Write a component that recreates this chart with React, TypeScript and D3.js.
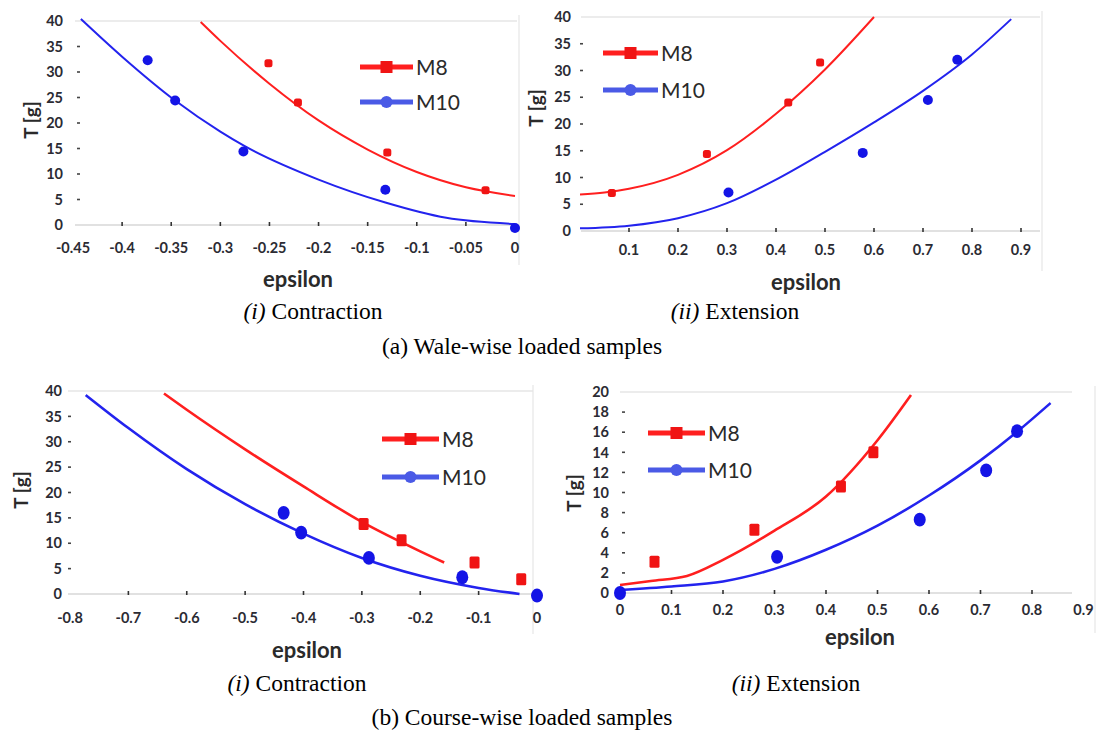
import React from "react";
import * as d3 from "d3";

// ---------- (a)(i) Wale-wise, contraction ----------
const aConM8Eps = [-0.251, -0.221, -0.13, -0.03];
const aConM8T = [31.7, 24.0, 14.2, 6.8];
const aConM10Eps = [-0.374, -0.346, -0.2765, -0.132, 0];
const aConM10T = [32.3, 24.4, 14.4, 6.9, -0.6];
const aConM8FitEps = [-0.32, -0.3, -0.25, -0.2, -0.15, -0.1, -0.05, 0];
const aConM8FitT = [39.8, 36.1, 27.7, 20.5, 14.8, 10.4, 7.4, 5.7];
const aConM10FitEps = [-0.442, -0.4, -0.346, -0.3, -0.2765, -0.2, -0.132, -0.07, 0];
const aConM10FitT = [40.4, 33.0, 24.4, 18.3, 15.6, 8.9, 4.4, 1.4, 0.2];

// ---------- (a)(ii) Wale-wise, extension ----------
const aExtM8Eps = [0.065, 0.259, 0.425, 0.49];
const aExtM8T = [7.1, 14.4, 24.0, 31.5];
const aExtM10Eps = [0.303, 0.577, 0.71, 0.77];
const aExtM10T = [7.2, 14.6, 24.5, 32.0];
const aExtM8FitEps = [0, 0.05, 0.1, 0.2, 0.3, 0.4, 0.5, 0.6];
const aExtM8FitT = [6.8, 7.2, 7.9, 10.5, 15.1, 21.9, 30.2, 40.0];
const aExtM10FitEps = [0, 0.1, 0.2, 0.3, 0.4, 0.5, 0.6, 0.7, 0.8, 0.88];
const aExtM10FitT = [0.5, 1.0, 2.4, 5.2, 9.6, 14.8, 20.3, 26.2, 33.0, 39.6];

// ---------- (b)(i) Course-wise, contraction ----------
const bConM8Eps = [-0.297, -0.232, -0.107, -0.027];
const bConM8T = [13.8, 10.6, 6.2, 2.9];
const bConM10Eps = [-0.434, -0.404, -0.288, -0.128, 0];
const bConM10T = [16.0, 12.1, 7.1, 3.3, -0.3];
const bConM8FitEps = [-0.639, -0.6, -0.5, -0.4, -0.3, -0.2, -0.159];
const bConM8FitT = [39.5, 36.3, 28.5, 21.2, 14.2, 8.4, 6.2];
const bConM10FitEps = [-0.773, -0.7, -0.6, -0.5, -0.4, -0.3, -0.2, -0.1, -0.03];
const bConM10FitT = [39.2, 32.7, 24.6, 17.7, 11.9, 7.1, 3.6, 1.2, 0];

// ---------- (b)(ii) Course-wise, extension ----------
const bExtM8Eps = [0.067, 0.261, 0.429, 0.492];
const bExtM8T = [3.1, 6.3, 10.6, 14.0];
const bExtM10Eps = [0, 0.305, 0.582, 0.711, 0.771];
const bExtM10T = [0, 3.6, 7.3, 12.2, 16.1];
const bExtM8FitEps = [0, 0.06, 0.13, 0.2, 0.3, 0.4, 0.5, 0.565];
const bExtM8FitT = [0.8, 1.2, 1.7, 3.3, 6.2, 9.6, 15.2, 19.7];
const bExtM10FitEps = [0, 0.1, 0.2, 0.3, 0.4, 0.5, 0.6, 0.7, 0.77, 0.836];
const bExtM10FitT = [0.3, 0.65, 1.15, 2.4, 4.3, 6.7, 9.7, 13.2, 16.0, 18.9];

// ---------- ticks & labels ----------
const aConXTicks = [-0.45, -0.4, -0.35, -0.3, -0.25, -0.2, -0.15, -0.1, -0.05, 0];
const aExtXTicks = [0.1, 0.2, 0.3, 0.4, 0.5, 0.6, 0.7, 0.8, 0.9];
const bConXTicks = [-0.8, -0.7, -0.6, -0.5, -0.4, -0.3, -0.2, -0.1, 0];
const bExtXTicks = [0, 0.1, 0.2, 0.3, 0.4, 0.5, 0.6, 0.7, 0.8, 0.9];
const tTicks40 = [0, 5, 10, 15, 20, 25, 30, 35, 40];
const tTicks20 = [0, 2, 4, 6, 8, 10, 12, 14, 16, 18, 20];
const seriesNames = ["M8", "M10"];

const RED = "#ff1f1f";
const BLUE = "#2323ee";
const TICK_FONT = "Lato, 'Open Sans', sans-serif";
const SERIF = "'Liberation Serif', 'Times New Roman', serif";

type Pt = [number, number];
const zip = (xs: number[], ys: number[]): Pt[] => xs.map((x, i) => [x, ys[i]]);

type PanelProps = {
  xDomain: [number, number];
  xRange: [number, number];
  yDomain: [number, number];
  yRange: [number, number];
  xTicks: number[];
  yTicks: number[];
  plotLeft: number;
  plotRight: number;
  border: number;
  yLabelRight: number;
  yDashX: number;
  xLabelY: number;
  tPos: [number, number];
  epsPos: [number, number];
  legend: { x1: number; x2: number; y8: number; y10: number };
  lw: number;
  big: boolean;
  m8: Pt[];
  m10: Pt[];
  m8Fit: Pt[];
  m10Fit: Pt[];
};

function Panel(p: PanelProps) {
  const x = d3.scaleLinear().domain(p.xDomain).range(p.xRange);
  const y = d3.scaleLinear().domain(p.yDomain).range(p.yRange);
  const line = d3
    .line<Pt>()
    .x((d) => x(d[0]))
    .y((d) => y(d[1]))
    .curve(d3.curveMonotoneX);
  const y0 = y(0);
  const yTop = y(p.yDomain[1]);
  const sq = p.big ? 10 : 8;
  const cr = p.big ? 6 : 5;
  const lg = p.legend;
  const lmid = (lg.x1 + lg.x2) / 2;
  return (
    <g>
      {/* frame */}
      <line x1={p.plotLeft} x2={p.plotRight} y1={yTop} y2={yTop} stroke="#d9d9d9" strokeWidth={1.2} />
      <line x1={p.border} x2={p.border} y1={yTop - 6} y2={y0 + 40} stroke="#e6e6e6" strokeWidth={1.2} />
      <line x1={p.plotLeft} x2={p.plotRight} y1={y0} y2={y0} stroke="#c4c4c4" strokeWidth={1.2} />
      {/* x ticks */}
      {p.xTicks.map((t) => {
        const xp = x(t);
        const inner = xp > p.plotLeft + 4 && xp < p.plotRight - 4;
        return (
          <g key={"xt" + t}>
            {inner && <line x1={xp} x2={xp} y1={y0 - 3} y2={y0 + 1} stroke="#333" strokeWidth={1.6} />}
            <text x={xp} y={p.xLabelY} textAnchor="middle" fontFamily={TICK_FONT} fontWeight={700} fontSize={14.5} fill="#2b2b33">
              {String(t)}
            </text>
          </g>
        );
      })}
      {/* y ticks */}
      {p.yTicks.map((t, i) => (
        <g key={"yt" + t}>
          <text x={p.yLabelRight} y={y(t)} dy="0.36em" textAnchor="end" fontFamily={TICK_FONT} fontWeight={700} fontSize={14.5} fill="#2b2b33">
            {String(t)}
          </text>
          {i > 0 && i < p.yTicks.length - 1 && (
            <line x1={p.yDashX} x2={p.yDashX + 3} y1={y(t)} y2={y(t)} stroke="#444" strokeWidth={1.6} />
          )}
        </g>
      ))}
      {/* axis titles */}
      <text
        transform={`translate(${p.tPos[0]},${p.tPos[1]}) rotate(-90)`}
        textAnchor="middle"
        dy="0.35em"
        fontFamily={TICK_FONT}
        fontWeight={700}
        fontSize={19}
        fill="#2a2a2a"
      >
        T [g]
      </text>
      <text x={p.epsPos[0]} y={p.epsPos[1]} dy="0.35em" textAnchor="middle" fontFamily={TICK_FONT} fontWeight={700} fontSize={22} fill="#2a2a2a">
        epsilon
      </text>
      {/* fitted curves */}
      <path d={line(p.m8Fit) || ""} fill="none" stroke={RED} strokeWidth={p.lw} />
      <path d={line(p.m10Fit) || ""} fill="none" stroke={BLUE} strokeWidth={p.lw} />
      {/* points */}
      {p.m8.map((d, i) => (
        <rect
          key={"r" + i}
          x={x(d[0]) - sq / 2}
          y={y(d[1]) - (p.big ? sq * 0.6 : sq / 2)}
          width={sq}
          height={p.big ? sq * 1.2 : sq}
          rx={p.big ? 1.5 : 2.5}
          fill="#f01414"
        />
      ))}
      {p.m10.map((d, i) => (
        <ellipse key={"c" + i} cx={x(d[0])} cy={y(d[1])} rx={cr} ry={p.big ? cr * 1.15 : cr} fill="#1414e6" />
      ))}
      {/* legend */}
      <line x1={lg.x1} x2={lg.x2} y1={lg.y8} y2={lg.y8} stroke={RED} strokeWidth={5} />
      <rect x={lmid - 6} y={lg.y8 - 6} width={12} height={12} fill="#f01414" />
      <text x={lg.x2 + 3} y={lg.y8} dy="0.36em" fontFamily={TICK_FONT} fontSize={21} fill="#2a2a2a">
        {seriesNames[0]}
      </text>
      <line x1={lg.x1} x2={lg.x2} y1={lg.y10} y2={lg.y10} stroke="#4a5ae6" strokeWidth={5} />
      <circle cx={lmid} cy={lg.y10} r={6} fill="#4a5ae6" />
      <text x={lg.x2 + 3} y={lg.y10} dy="0.36em" fontFamily={TICK_FONT} fontSize={21} fill="#2a2a2a">
        {seriesNames[1]}
      </text>
    </g>
  );
}

function Caption({ x, y, roman, word }: { x: number; y: number; roman: string; word: string }) {
  return (
    <text x={x} y={y} textAnchor="middle" fontFamily={SERIF} fontSize={23.5} fill="#000">
      <tspan fontStyle="italic">{roman}</tspan>
      <tspan>{" " + word}</tspan>
    </text>
  );
}

export default function App() {
  return (
    <div style={{ position: "absolute", left: 0, top: 0, width: 1099, height: 733, background: "#fff" }}>
      <svg width={1099} height={733} style={{ display: "block" }}>
        <rect width={1099} height={733} fill="#fff" />
        <Panel
          xDomain={[-0.45, 0]}
          xRange={[73, 515]}
          yDomain={[0, 40]}
          yRange={[225, 21]}
          xTicks={aConXTicks}
          yTicks={tTicks40}
          plotLeft={75}
          plotRight={517}
          border={519}
          yLabelRight={63}
          yDashX={77}
          xLabelY={253}
          tPos={[31, 120]}
          epsPos={[298, 279]}
          legend={{ x1: 360, x2: 413, y8: 67, y10: 102 }}
          lw={2}
          big={false}
          m8={zip(aConM8Eps, aConM8T)}
          m10={zip(aConM10Eps, aConM10T)}
          m8Fit={zip(aConM8FitEps, aConM8FitT)}
          m10Fit={zip(aConM10FitEps, aConM10FitT)}
        />
        <Panel
          xDomain={[0, 0.9]}
          xRange={[580, 1021]}
          yDomain={[0, 40]}
          yRange={[231, 17]}
          xTicks={aExtXTicks}
          yTicks={tTicks40}
          plotLeft={581}
          plotRight={1040}
          border={1042}
          yLabelRight={571}
          yDashX={580}
          xLabelY={255}
          tPos={[536, 108]}
          epsPos={[806, 282]}
          legend={{ x1: 603, x2: 658, y8: 53, y10: 90 }}
          lw={2}
          big={false}
          m8={zip(aExtM8Eps, aExtM8T)}
          m10={zip(aExtM10Eps, aExtM10T)}
          m8Fit={zip(aExtM8FitEps, aExtM8FitT)}
          m10Fit={zip(aExtM10FitEps, aExtM10FitT)}
        />
        <Panel
          xDomain={[-0.8, 0]}
          xRange={[70, 537]}
          yDomain={[0, 40]}
          yRange={[594, 391]}
          xTicks={bConXTicks}
          yTicks={tTicks40}
          plotLeft={68}
          plotRight={533}
          border={533}
          yLabelRight={62}
          yDashX={68}
          xLabelY={623}
          tPos={[21, 490]}
          epsPos={[307, 650]}
          legend={{ x1: 382, x2: 439, y8: 439, y10: 477 }}
          lw={2.6}
          big={true}
          m8={zip(bConM8Eps, bConM8T)}
          m10={zip(bConM10Eps, bConM10T)}
          m8Fit={zip(bConM8FitEps, bConM8FitT)}
          m10Fit={zip(bConM10FitEps, bConM10FitT)}
        />
        <Panel
          xDomain={[0, 0.9]}
          xRange={[620, 1083.5]}
          yDomain={[0, 20]}
          yRange={[593, 392]}
          xTicks={bExtXTicks}
          yTicks={tTicks20}
          plotLeft={620}
          plotRight={1072}
          border={1095}
          yLabelRight={609}
          yDashX={622}
          xLabelY={615}
          tPos={[574, 493]}
          epsPos={[860, 637]}
          legend={{ x1: 648, x2: 705, y8: 433, y10: 470 }}
          lw={2.6}
          big={true}
          m8={zip(bExtM8Eps, bExtM8T)}
          m10={zip(bExtM10Eps, bExtM10T)}
          m8Fit={zip(bExtM8FitEps, bExtM8FitT)}
          m10Fit={zip(bExtM10FitEps, bExtM10FitT)}
        />
        <Caption x={313} y={319} roman="(i)" word="Contraction" />
        <Caption x={735} y={319} roman="(ii)" word="Extension" />
        <text x={522} y={354} textAnchor="middle" fontFamily={SERIF} fontSize={23.5}>
          (a) Wale-wise loaded samples
        </text>
        <Caption x={297} y={691} roman="(i)" word="Contraction" />
        <Caption x={796} y={691} roman="(ii)" word="Extension" />
        <text x={522} y={725} textAnchor="middle" fontFamily={SERIF} fontSize={23.5}>
          (b) Course-wise loaded samples
        </text>
      </svg>
    </div>
  );
}
